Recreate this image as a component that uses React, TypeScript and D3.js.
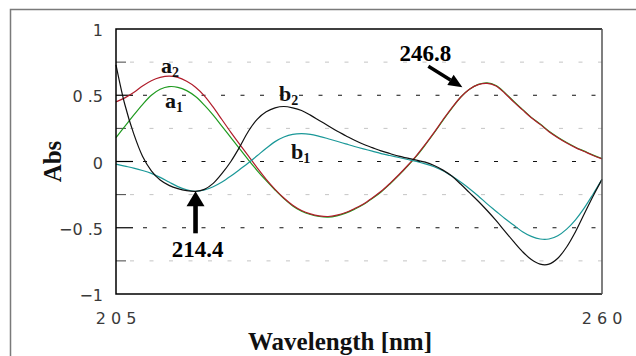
import React from 'react'
import * as d3 from 'd3'

const W = 636, H = 356
const margin = { top: 29, right: 34, bottom: 62, left: 116 }

// wavelengths, 1 nm step
const wavelengths = d3.range(205, 261)

const a2 = [0.45, 0.48, 0.52, 0.57, 0.61, 0.635, 0.645, 0.635, 0.605, 0.56,
  0.495, 0.41, 0.315, 0.22, 0.13, 0.04, -0.05, -0.135, -0.21, -0.275,
  -0.33, -0.37, -0.395, -0.41, -0.415, -0.405, -0.385, -0.355, -0.32, -0.275,
  -0.225, -0.165, -0.1, -0.03, 0.045, 0.13, 0.22, 0.315, 0.405, 0.485,
  0.545, 0.58, 0.59, 0.57, 0.515, 0.45, 0.39, 0.33, 0.28, 0.225,
  0.18, 0.14, 0.105, 0.075, 0.045, 0.02]

const a1 = [0.18, 0.265, 0.35, 0.43, 0.5, 0.545, 0.565, 0.56, 0.535, 0.49,
  0.425, 0.35, 0.265, 0.18, 0.095, 0.01, -0.07, -0.145, -0.215, -0.28,
  -0.335, -0.375, -0.4, -0.415, -0.42, -0.41, -0.39, -0.36, -0.325, -0.28,
  -0.23, -0.17, -0.105, -0.035, 0.04, 0.125, 0.215, 0.31, 0.4, 0.485,
  0.545, 0.582, 0.594, 0.574, 0.52, 0.455, 0.393, 0.333, 0.283, 0.228,
  0.183, 0.143, 0.108, 0.078, 0.048, 0.023]

const b2 = [0.73, 0.43, 0.21, 0.04, -0.07, -0.14, -0.18, -0.205, -0.22, -0.225,
  -0.21, -0.165, -0.09, 0.0, 0.11, 0.23, 0.32, 0.375, 0.405, 0.415,
  0.405, 0.385, 0.35, 0.31, 0.27, 0.23, 0.195, 0.16, 0.13, 0.105,
  0.08, 0.06, 0.04, 0.025, 0.01, -0.005, -0.03, -0.065, -0.11, -0.17,
  -0.235, -0.3, -0.37, -0.445, -0.525, -0.605, -0.68, -0.74, -0.775, -0.775,
  -0.73, -0.645, -0.53, -0.395, -0.26, -0.135]

const b1 = [-0.02, -0.035, -0.05, -0.068, -0.09, -0.12, -0.155, -0.19, -0.213, -0.225,
  -0.215, -0.19, -0.155, -0.11, -0.06, -0.01, 0.045, 0.1, 0.15, 0.185,
  0.205, 0.21, 0.205, 0.19, 0.172, 0.153, 0.133, 0.113, 0.095, 0.078,
  0.06, 0.045, 0.03, 0.015, 0.0, -0.018, -0.04, -0.07, -0.11, -0.155,
  -0.205, -0.26, -0.32, -0.375, -0.43, -0.48, -0.53, -0.565, -0.585, -0.585,
  -0.56, -0.51, -0.44, -0.35, -0.245, -0.135]

const series = [
  { name: 'a1', values: a1, color: '#1f9a1f' },
  { name: 'a2', values: a2, color: '#b01c2a' },
  { name: 'b1', values: b1, color: '#1a9898' },
  { name: 'b2', values: b2, color: '#111111' },
]

const majorTicks = [1, 0.5, 0, -0.5, -1]
const minorTicks = [0.75, 0.25, -0.25, -0.75]
const yTickLabels = ['1', '0 .5', '0', '\u22120 .5', '\u22121']
const xTicks = [205, 260]
const xTickLabels = ['2 0 5', '2 6 0']

// arrow annotations: label, and where the arrow tip sits (wavelength, abs)
const marks = [
  { label: '214.4', wl: 214.0, v: -0.225 },
  { label: '246.8', wl: 244.2, v: 0.56 },
]

const serif = '"Liberation Serif", "Times New Roman", serif'
const sans = '"DejaVu Sans", Verdana, sans-serif'

export default function App() {
  const x = d3.scaleLinear().domain([205, 260]).range([margin.left, W - margin.right])
  const y = d3.scaleLinear().domain([-1, 1]).range([H - margin.bottom, margin.top])

  const line = d3.line<number>()
    .x((_, i) => x(wavelengths[i]))
    .y(d => y(d))
    .curve(d3.curveCatmullRom.alpha(0.5))

  const x0 = x(205), x1 = x(260), yTop = y(1), yBot = y(-1)

  // arrow 1 points up, arrow 2 points down-right
  const m1 = marks[0], m2 = marks[1]
  const t1x = x(m1.wl), t1y = y(m1.v)
  const t2x = x(m2.wl), t2y = y(m2.v)
  const ang = Math.atan2(21, 34)
  const s2x = t2x - 40 * Math.cos(ang), s2y = t2y - 40 * Math.sin(ang)
  const hx = t2x - 14 * Math.cos(ang), hy = t2y - 14 * Math.sin(ang)
  const px = -Math.sin(ang) * 6, py = Math.cos(ang) * 6

  return (
    <svg width={W} height={H} style={{ position: 'absolute', left: 0, top: 0, background: '#fff' }}>
      {/* outer frame */}
      <path d={`M10.5,${H}V9.5H${W}`} fill="none" stroke="#7a7a7a" strokeWidth={1.5} />

      {/* minor grid */}
      {minorTicks.map(t => (
        <g key={'mi' + t}>
          <line x1={x0 + 10} x2={x1} y1={y(t)} y2={y(t)} stroke="#c4c4c4" strokeWidth={1} strokeDasharray="4,15.5" strokeDashoffset={-4} />
          <line x1={x0} x2={x0 + 10} y1={y(t)} y2={y(t)} stroke="#444" strokeWidth={1} />
        </g>
      ))}
      {/* major grid */}
      {majorTicks.filter(t => t !== 1 && t !== -1).map(t => (
        <g key={'ma' + t}>
          <line x1={x0 + 17} x2={x1} y1={y(t)} y2={y(t)} stroke="#111" strokeWidth={1} strokeDasharray="4,15.5" strokeDashoffset={-10} />
          <line x1={x0} x2={x0 + 17} y1={y(t)} y2={y(t)} stroke="#000" strokeWidth={1.2} />
        </g>
      ))}

      {/* curves */}
      {series.map(s => (
        <path key={s.name} d={line(s.values) || ''} fill="none" stroke={s.color} strokeWidth={1.2} />
      ))}

      {/* plot frame */}
      <path d={`M${x1},${yTop}H${x0}V${yBot}H${x1}`} fill="none" stroke="#000" strokeWidth={1.5} />
      <line x1={x1} x2={x1} y1={yTop} y2={yBot} stroke="#555" strokeWidth={1.5} />

      {/* y tick labels */}
      {majorTicks.map((t, i) => (
        <text key={'yl' + t} x={x0 - 13} y={y(t) + 7} textAnchor="end" fontFamily={sans} fontSize={16} fill="#3a3a3a">
          {yTickLabels[i]}
        </text>
      ))}
      {/* x tick labels */}
      {xTicks.map((t, i) => (
        <text key={'xl' + t} x={x(t)} y={324} textAnchor="middle" fontFamily={sans} fontSize={16} fill="#3a3a3a">
          {xTickLabels[i]}
        </text>
      ))}

      {/* axis titles */}
      <text x={340} y={350} textAnchor="middle" fontFamily={serif} fontWeight="bold" fontSize={25} fill="#111">
        Wavelength [nm]
      </text>
      <text transform={`translate(61,${(yTop + yBot) / 2}) rotate(-90)`} textAnchor="middle" fontFamily={serif} fontWeight="bold" fontSize={25} fill="#111">
        Abs
      </text>

      {/* curve labels */}
      <g fontFamily={serif} fontWeight="bold" fill="#111" fontSize={22}>
        <text x={161} y={73}>a<tspan fontSize={14} dy={4}>2</tspan></text>
        <text x={165} y={108}>a<tspan fontSize={14} dy={4}>1</tspan></text>
        <text x={279} y={101}>b<tspan fontSize={14} dy={4}>2</tspan></text>
        <text x={291} y={159}>b<tspan fontSize={14} dy={4}>1</tspan></text>
      </g>

      {/* arrow at 214.4 */}
      <rect x={t1x - 2.3} y={t1y + 12} width={4.6} height={30} fill="#000" />
      <path d={`M${t1x},${t1y}L${t1x - 9},${t1y + 15}L${t1x + 9},${t1y + 15}Z`} fill="#000" />
      <text x={t1x + 2} y={t1y + 66} textAnchor="middle" fontFamily={serif} fontWeight="bold" fontSize={23} fill="#000">{m1.label}</text>

      {/* arrow at 246.8 */}
      <line x1={s2x} y1={s2y} x2={hx} y2={hy} stroke="#000" strokeWidth={3.5} />
      <path d={`M${t2x},${t2y}L${hx + px},${hy + py}L${hx - px},${hy - py}Z`} fill="#000" />
      <text x={s2x - 3} y={s2y - 5} textAnchor="middle" fontFamily={serif} fontWeight="bold" fontSize={23} fill="#000">{m2.label}</text>
    </svg>
  )
}
